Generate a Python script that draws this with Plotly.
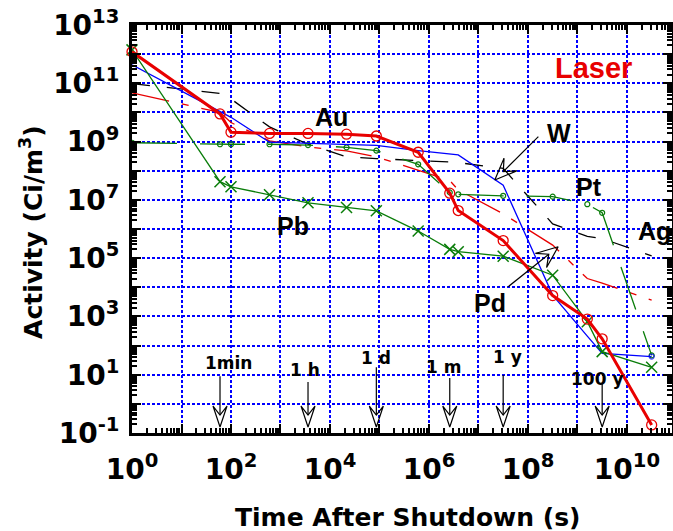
import math
import plotly.graph_objects as go

# ---------------- data ----------------
time_s = [1, 60, 100, 600, 3600, 21600, 86400, 604800, 2.63e6, 3.9e6,
          3.156e7, 3.156e8, 1.58e9, 3.156e9, 3.156e10]

au = [1.2e12, 8.9e9, 2.1e9, 1.9e9, 1.9e9, 1.8e9, 1.55e9, 4.3e8, 1.7e7, 4.3e6,
      4.0e5, 5.2e3, 8.1e2, 1.7e2, 0.19]
w = [4.3e11, 1.1e10, 6.8e9, 9.5e8, 8.7e8, 8.1e8, 7.4e8, 4.9e8, 3.7e8, 3.5e8,
     3.2e7, 5.4e3, 2.1e2, 54, 42]
pb = [1.4e12, 4.2e7, 2.8e7, 1.5e7, 7.9e6, 5.5e6, 4.2e6, 8.5e5, 2.0e5, 1.66e5,
      1.17e5, 2.6e4, 6.6e2, 62, 18]
pt = [9.1e8, 8.1e8, 8.1e8, 8.1e8, 7.6e8, 6.3e8, 4.9e8, 1.66e8, 1.8e7, 1.55e7,
      1.38e7, 1.29e7, 7.1e6, 3.6e6, 46]
ag = [9.8e10, 4.5e10, 2.9e10, 3.2e9, 8.1e8, 3.0e8, 2.6e8, 2.3e8, 2.0e8, 1.9e8,
      1.2e8, 1.5e6, 5.6e5, 4.7e5, 1.2e5]
pd_ = [4.7e10, 1.0e10, 4.5e9, 1.05e9, 6.5e8, 4.8e8, 3.0e8, 1.05e8, 4.6e7, 2.2e7,
       3.3e6, 2.8e5, 2.0e4, 1.4e4, 3.6e3]

x_tick_exponents = list(range(0, 11))
y_tick_exponents = list(range(-1, 14))

# element labels: (text, log10 time, log10 activity)
element_labels = [("Au", 4.04, 9.84), ("W", 8.63, 9.29), ("Pt", 9.24, 7.44),
                  ("Ag", 10.56, 5.93), ("Pd", 7.24, 3.46), ("Pb", 3.26, 6.10)]

# time markers: (label, time in s, label log-x, label log-y, shaft-top log-y)
time_marks = [("1min", 60, 1.94, 1.40, 0.95),
              ("1 h", 3600, 3.50, 1.16, 0.75),
              ("1 d", 86400, 4.93, 1.57, 1.26),
              ("1 m", 2.63e6, 6.29, 1.26, 0.89),
              ("1 y", 3.156e7, 7.58, 1.61, 0.99),
              ("100 y", 3.156e9, 9.40, 0.85, 0.71)]
time_arrow_tip = -0.795

# pointer arrows (tail log-x, tail log-y, tip log-x, tip log-y)
pointer_arrows = [(8.21, 9.17, 7.33, 7.68),   # W
                  (7.60, 4.02, 8.61, 5.39)]   # Pd

# ---------------- layout geometry ----------------
W_PX, H_PX = 673, 531
ML, MR, MT, MB = 132, 1, 25, 98
XR = [0, 10.91]
YR = [-1, 13]
PX_X = (W_PX - ML - MR) / (XR[1] - XR[0])
PX_Y = (H_PX - MT - MB) / (YR[1] - YR[0])

RED = "#e80000"
BLUE = "#0000ff"
GREEN = "#0a7d0a"
BLACK = "#000000"

fig = go.Figure()

fig.add_trace(go.Scatter(x=time_s, y=pd_, mode="lines",
                         line=dict(color=RED, width=1.3, dash="38px,13px,7px,13px"),
                         hoverinfo="skip", showlegend=False))
fig.add_trace(go.Scatter(x=time_s, y=ag, mode="lines",
                         line=dict(color=BLACK, width=1.3, dash="18px,17px"),
                         hoverinfo="skip", showlegend=False))
fig.add_trace(go.Scatter(x=time_s, y=pt, mode="lines+markers",
                         line=dict(color=GREEN, width=1.3, dash="45px,23px"),
                         marker=dict(symbol="circle-open", size=5, color=GREEN,
                                     line=dict(width=1.2, color=GREEN)),
                         cliponaxis=False, hoverinfo="skip", showlegend=False))
fig.add_trace(go.Scatter(x=time_s, y=w, mode="lines+markers",
                         line=dict(color=BLUE, width=1.3),
                         marker=dict(symbol="circle-open",
                                     size=[0] * (len(time_s) - 1) + [5],
                                     color=BLUE, line=dict(width=1.2, color=BLUE)),
                         hoverinfo="skip", showlegend=False))
fig.add_trace(go.Scatter(x=time_s, y=pb, mode="lines+markers",
                         line=dict(color=GREEN, width=1.3),
                         marker=dict(symbol="x-thin", size=11, color=GREEN,
                                     line=dict(width=1.5, color=GREEN)),
                         cliponaxis=False, hoverinfo="skip", showlegend=False))
fig.add_trace(go.Scatter(x=time_s, y=au, mode="lines+markers",
                         line=dict(color=RED, width=3),
                         marker=dict(symbol="circle-open", size=10, color=RED,
                                     line=dict(width=1.3, color=RED)),
                         cliponaxis=False, hoverinfo="skip", showlegend=False))


def arrow_xy(x0, y0, x1, y1, length, half, notch):
    """Open dart arrow from (x0,y0) to tip (x1,y1), all in log10 units."""
    dx = (x1 - x0) * PX_X
    dy = (y1 - y0) * PX_Y
    n = math.hypot(dx, dy)
    ux, uy = dx / n, dy / n
    vx, vy = -uy, ux

    def pt_(ax, ay):
        return 10 ** (x1 + ax / PX_X), 10 ** (y1 + ay / PX_Y)

    tail = (10 ** x0, 10 ** y0)
    notch_p = pt_(-notch * ux, -notch * uy)
    wl = pt_(-length * ux + half * vx, -length * uy + half * vy)
    wr = pt_(-length * ux - half * vx, -length * uy - half * vy)
    tip = (10 ** x1, 10 ** y1)
    pts = [tail, notch_p, None, wl, tip, wr, notch_p, wl]
    xs = [p[0] if p else None for p in pts]
    ys = [p[1] if p else None for p in pts]
    return xs, ys


for label, t, lx, ly, top in time_marks:
    xs, ys = arrow_xy(math.log10(t), top, math.log10(t), time_arrow_tip, 21, 7, 12)
    fig.add_trace(go.Scatter(x=xs, y=ys, mode="lines",
                             line=dict(color=BLACK, width=1.2),
                             hoverinfo="skip", showlegend=False))
    fig.add_annotation(x=lx, y=ly, xref="x", yref="y", text=label, showarrow=False,
                       xanchor="center", yanchor="middle",
                       font=dict(family="DejaVu Sans", size=17, color=BLACK, weight="bold"))

for x0, y0, x1, y1 in pointer_arrows:
    xs, ys = arrow_xy(x0, y0, x1, y1, 22, 9, 12)
    fig.add_trace(go.Scatter(x=xs, y=ys, mode="lines",
                             line=dict(color=BLACK, width=1.2),
                             hoverinfo="skip", showlegend=False))

for text, lx, ly in element_labels:
    fig.add_annotation(x=lx, y=ly, xref="x", yref="y", text=text, showarrow=False,
                       xanchor="center", yanchor="middle",
                       font=dict(family="Liberation Sans", size=25, color=BLACK, weight="bold"))

fig.add_annotation(x=9.32, y=11.52, xref="x", yref="y", text="Laser", showarrow=False,
                   xanchor="center", yanchor="middle",
                   font=dict(family="Liberation Sans", size=29, color=RED, weight="bold"))

# axis titles
fig.add_annotation(x=0.511, y=-0.206, xref="paper", yref="paper",
                   xanchor="center", yanchor="middle",
                   text="Time After Shutdown (s)", showarrow=False,
                   font=dict(family="DejaVu Sans", size=25, color=BLACK, weight="bold"))
fig.add_annotation(x=-0.185, y=0.493, xref="paper", yref="paper", textangle=-90,
                   xanchor="center", yanchor="middle",
                   text="Activity (Ci/m<sup>3</sup>)", showarrow=False,
                   font=dict(family="DejaVu Sans", size=25, color=BLACK, weight="bold"))

tickfont = dict(family="DejaVu Sans", size=28, color=BLACK, weight="bold")
common = dict(type="log", showline=True, linewidth=3, linecolor=BLACK, mirror="ticks",
              ticks="inside", ticklen=9, tickwidth=2, tickcolor=BLACK,
              showgrid=True, gridcolor=BLUE, gridwidth=2, griddash="3px,2px",
              zeroline=False, tickfont=tickfont)

fig.update_xaxes(range=XR,
                 tickvals=[10 ** k for k in x_tick_exponents],
                 ticktext=[f"10<sup>{k}</sup>" if k % 2 == 0 else "" for k in x_tick_exponents],
                 minor=dict(tickvals=[m * 10 ** k for k in x_tick_exponents for m in range(2, 10)],
                            ticks="inside", ticklen=5, tickwidth=1.5, tickcolor=BLACK,
                            showgrid=False),
                 ticklabelstandoff=9,
                 **common)
fig.update_yaxes(range=YR,
                 tickvals=[10.0 ** k for k in y_tick_exponents],
                 ticktext=[f"10<sup>{k}</sup>" if (k + 1) % 2 == 0 else "" for k in y_tick_exponents],
                 minor=dict(tickvals=[m * 10.0 ** k for k in y_tick_exponents for m in range(2, 10)],
                            ticks="inside", ticklen=5, tickwidth=1.5, tickcolor=BLACK,
                            showgrid=False),
                 ticklabelstandoff=4,
                 **common)

fig.update_layout(width=W_PX, height=H_PX,
                  margin=dict(l=ML, r=MR, t=MT, b=MB, pad=0, autoexpand=False),
                  paper_bgcolor="white", plot_bgcolor="white",
                  showlegend=False)

fig.write_html("out.html")
